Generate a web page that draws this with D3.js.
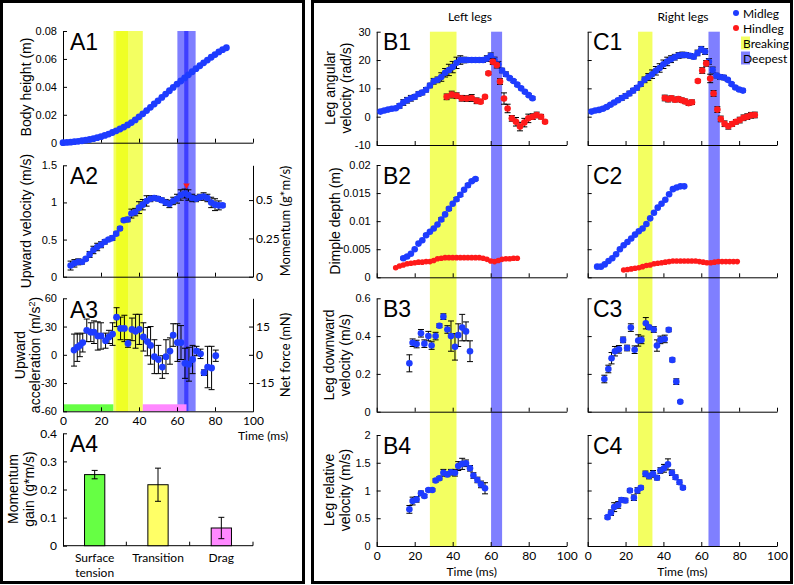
<!DOCTYPE html>
<html><head><meta charset="utf-8">
<script src="https://cdn.jsdelivr.net/npm/d3@7"></script>
<style>body{margin:0;background:#fff}svg{display:block}</style>
</head><body><svg id="c" width="794" height="585"></svg>
<script>
// ---------------- DATA ----------------
const bandLeftBreaking = [28, 42];
const bandLeftDeepest = [60.2, 66];
const bandRightBreaking = [26.6, 34.2];
const bandRightDeepest = [63.8, 69.8];
const phaseStarts = [0, 42];
const phaseEnds = [26.5, 65];

const a1Time = [0,2,4,6,8,10,12,14,16,18,20,22,24,26,28,30,32,34,36,38,40,42,44,46,48,50,52,54,56,58,60,62,64,66,68,70,72,74,76,78,80,82,84,86];
const a1Height = [0,0.0002,0.0004,0.0007,0.0010,0.0014,0.0018,0.0023,0.0029,0.0036,0.0043,0.0052,0.0062,0.0073,0.0085,0.0098,0.0112,0.0127,0.0144,0.0163,0.0185,0.0207,0.0230,0.0253,0.0277,0.0300,0.0324,0.0348,0.0372,0.0396,0.0420,0.0442,0.0464,0.0486,0.0508,0.0530,0.0551,0.0572,0.0592,0.0612,0.0631,0.0650,0.0666,0.0680];

const a2Time = [4,6,8,10,12,14,16,18,20,22,24,26,28,30,32,34,36,38,40,42,44,46,48,50,52,54,56,58,60,62,64,66,68,70,72,74,76,78,80,82,84];
const a2Vel = [.15,.18,.20,.20,.24,.30,.36,.40,.43,.47,.50,.52,.58,.65,.76,.77,.85,.87,.93,.97,1.02,1.05,1.06,1.05,1.03,1.00,.98,1.02,1.05,1.10,1.12,1.10,1.06,1.05,1.07,1.08,1.06,1.00,.97,.96,.96];
const a2Err = [.06,.05,.04,.03,.02,.04,.05,.05,.04,.03,.02,.03,.02,.02,.02,.03,.06,.05,.08,.07,.07,.04,.03,.03,.03,.04,.05,.05,.06,.07,.06,.07,.05,.04,.04,.05,.05,.07,.08,.06,.02];
const a2PeakTime = [65];
const a2PeakVel = [1.23];

const a3Time = [5.8,7.5,8.9,10.4,12.5,14.6,16.3,18.3,20,22.4,24.2,26.1,28.2,30.3,32.3,34.2,36.3,38.2,40.2,42.3,44.4,46.1,48.1,50.2,52.3,54.2,56.3,58,60.2,62.1,64.2,66.3,68.2,70.3,72.4,74.2,76.1,78.2,80.4];
const a3Acc = [5,8,10,13,26,24,24,20,20,15,19,22,40,28,28,12,27,25,27,19,14,10,-2,-5,-13,-2,4,21,13,13,-9,-10,-5,4,1,-19,-13,-14,-1];
const a3Err = [17,15,12,10,12,10,12,15,14,8,7,12,10,12,14,4,12,18,16,15,15,20,18,15,12,18,14,12,20,18,16,18,15,5,5,3,22,23,6];

const a4Categories = ["Surface tension", "Transition", "Drag"];
const a4CategoryLines = [["Surface","tension"],["Transition"],["Drag"]];
const a4Gain = [0.253, 0.217, 0.063];
const a4Err = [0.015, 0.059, 0.038];
const a4Colors = ["#66ff44", "#ffff66", "#ff88ff"];

const b1MidTime = [2,4,6,8,10,12,14,16,18,20,22,24,26,28,30,32,34,36,38,40,42,44,46,48,50,52,54,56,58,60,62,64,66,68,70,72,74,76,78,80,82];
const b1MidVal = [1.8,2.2,2.5,2.8,3.0,3.8,5.0,5.8,6.5,7.0,8.0,8.5,9.5,11.0,12.5,13.0,14.0,15.5,16.5,17.5,19.0,20.0,20.0,20.0,20.0,20.0,20.0,20.0,20.5,21.5,20.0,18.5,16.3,15.0,13.6,12.6,11.3,10.0,8.8,7.6,6.5];
const b1MidErr = [0.5,0.5,0.5,0.5,0.5,0.8,1,1,1,0.8,0.8,0.8,0.8,0.8,1,1,1.5,1.5,2,2,2,1.5,1,0.8,0.8,0.8,0.8,0.8,1,1,1,1,0.8,0.8,0.5,0.5,0.5,0.5,0.5,0.5,0.5];
const b1HindTime = [36.8,39.5,42.1,44.7,47.4,50,52.6,54.7,57,58.8,61.1,63.2,64.9,67,68.9,71.1,73.3,75.4,77.7,79.8,82.1,84.2,86.5,88.6];
const b1HindVal = [7.0,7.8,7.4,6.5,6.4,6.6,5.6,5.3,7.0,15.3,19.4,18.2,12.4,6.4,2.9,-0.6,-1.8,-3.5,-2.1,-0.6,0,0.6,0,-1.8];
const b1HindErr = [1,1.2,1,1,1,1.2,1,0.5,0.5,0.5,1,1,1,2,1.5,1,1.5,1.5,1.5,1.5,1,1,0.8,0.5];

const c1MidTime = [2,4,6,8,10,12,14,16,18,20,22,24,26,28,30,32,34,36,38,40,42,44,46,48,50,52,54,56,58,60,62,64,66,68,70,72,74,76,78,80,82];
const c1MidVal = [1.8,2.2,2.4,2.8,3.4,4.2,5.0,5.8,6.6,7.3,8.2,9.2,10.2,11.5,13.0,14.0,15.0,16.2,17.2,18.5,19.5,20.3,21.0,21.6,21.8,21.8,21.5,21.2,22.5,23.8,23.0,19.5,16.5,14.5,14.0,13.8,13.0,11.5,10.3,9.6,9.2];
const c1MidErr = [0.5,0.5,0.5,0.5,0.5,0.5,0.5,0.5,0.8,0.8,0.8,0.8,0.8,0.8,1,1.2,1.5,1.5,1.5,1.5,1.5,1.2,1,1,1,0.8,0.8,0.8,1,1,1,1,1,0.8,0.8,0.8,0.5,0.5,0.5,0.5,0.5];
const c1HindTime = [40.7,42.5,44.3,46.1,47.9,49.7,51.5,53.3,55.1,58.2,60.5,62.6,64.7,66.5,68.5,70.3,72.3,74.3,76.3,78.3,80.3,82.3,84.3,86.3,88.3];
const c1HindVal = [6.6,6.2,6.5,6.0,6.2,5.8,5.4,4.8,5.1,12.6,16.3,18.8,13.5,8.2,2.5,-0.8,-2.5,-3.4,-2.6,-1.8,-1.2,-0.4,0,0.5,0.6];
const c1HindErr = [1,1,0.8,0.8,0.8,0.8,0.8,0.8,0.8,0.5,1,1,1.5,1,1,1,1,1,0.8,0.8,1,1,1,1,1];

const b2MidTime = [14,16,18,20,22,24,26,28,30,32,34,36,38,40,42,44,46,48,50,52];
const b2MidVal = [0.0034,0.0037,0.0042,0.0050,0.0060,0.0066,0.0075,0.0081,0.0087,0.0094,0.0103,0.0112,0.0122,0.0131,0.0139,0.0147,0.0156,0.0164,0.0171,0.0175];
const b2MidErr = [0.0002,0.0002,0,0,0,0,0.0002,0,0,0,0.0003,0,0.0003,0,0.0003,0.0003,0,0.0003,0.0002,0.0002];
const b2HindTime = [10,12,14,16,18,20,22,24,26,28,30,32,34,36,38,40,42,44,46,48,50,52,54,56,58,60,62,64,66,68,70,72,74];
const b2HindVal = [0.0017,0.0020,0.0022,0.0024,0.0025,0.0026,0.0027,0.0027,0.0028,0.0028,0.0030,0.0033,0.0034,0.0035,0.0035,0.0035,0.0035,0.0035,0.0035,0.0035,0.0035,0.0035,0.0035,0.0034,0.0032,0.0029,0.0028,0.0030,0.0032,0.0033,0.0033,0.0034,0.0034];

const c2MidTime = [5,7,9,11,13,15,17,19,21,23,25,27,29,31,33,35,37,39,41,43,45,47,49,51];
const c2MidVal = [0.0019,0.0019,0.0023,0.0029,0.0034,0.0041,0.0050,0.0057,0.0063,0.0069,0.0076,0.0082,0.0087,0.0095,0.0105,0.0115,0.0124,0.0131,0.0138,0.0148,0.0157,0.0160,0.0162,0.0162];
const c2HindTime = [19,21,23,25,27,29,31,33,35,37,39,41,43,45,47,49,51,53,55,57,59,61,63,65,67,69,71,73,75,77,79];
const c2HindVal = [0.0013,0.0014,0.0015,0.0016,0.0017,0.0019,0.0021,0.0022,0.0024,0.0025,0.0026,0.0027,0.0028,0.0029,0.0029,0.0029,0.0029,0.0029,0.0029,0.0029,0.0028,0.0027,0.0026,0.0026,0.0027,0.0028,0.0028,0.0028,0.0028,0.0028,0.0028];

const b3Time = [17.2,18.9,21,23.3,25.1,27.2,28.9,31,33,35.1,37.2,39.1,41.2,42.9,45,47,49.1];
const b3Val = [0.256,0.365,0.358,0.415,0.36,0.40,0.35,0.40,0.455,0.503,0.435,0.40,0.343,0.405,0.445,0.425,0.32];
const b3Err = [0.045,0.02,0.02,0.02,0.02,0.025,0.02,0.02,0.01,0.015,0.02,0.08,0.07,0.06,0.07,0.05,0.055];

const c3Time = [8.8,10.9,12.6,14.4,16.5,18.7,20.8,22.8,24.8,26.7,28.4,30.7,32.4,34.9,36.6,38.4,40.7,42.8,44.7,46.8,48.9];
const c3Val = [0.173,0.226,0.283,0.32,0.33,0.38,0.337,0.445,0.328,0.377,0.38,0.468,0.447,0.435,0.35,0.38,0.385,0.433,0.274,0.159,0.053];
const c3Err = [0.02,0.02,0.03,0.025,0.02,0.015,0.015,0.02,0.02,0.03,0.02,0.03,0.01,0.015,0.03,0.02,0.02,0.01,0.01,0.015,0.005];

const b4Time = [17.2,18.9,21,23.3,25.1,27.2,29.3,31,33,35.1,37.2,39.1,41.2,42.9,45,47,49.1,50.9,53,54.9,57];
const b4Val = [0.66,0.81,0.84,0.95,0.90,1.01,1.01,1.18,1.22,1.32,1.29,1.33,1.32,1.44,1.48,1.49,1.40,1.27,1.19,1.11,1.04];
const b4Err = [0.07,0.07,0.05,0.04,0.03,0.02,0.02,0.03,0.03,0.06,0.04,0.05,0.06,0.08,0.1,0.06,0.05,0.05,0.05,0.06,0.1];

const c4Time = [10.5,12.3,14,16.1,17.8,19.9,22.3,24.4,26.3,28.1,30.5,32.4,34.5,36.6,38.4,40.3,42.4,44.5,46.4,48.5,50.3];
const c4Val = [0.52,0.60,0.70,0.74,0.83,0.82,1.0,0.87,1.0,1.05,1.30,1.26,1.30,1.23,1.36,1.40,1.47,1.32,1.24,1.15,1.05];
const c4Err = [0.03,0.05,0.08,0.06,0.04,0.04,0.03,0.05,0.05,0.03,0.05,0.05,0.06,0.04,0.05,0.07,0.1,0.05,0.04,0.04,0.03];

const timeTicks = [0,20,40,60,80,100];
const timeTickLabels = ["0","20","40","60","80","100"];
const a1Ticks = [0,0.02,0.04,0.06,0.08], a1Labels = ["0","0.02","0.04","0.06","0.08"];
const a2Ticks = [0,0.5,1,1.5], a2Labels = ["0","0.5","1","1.5"];
const a2rTicks = [0,0.25,0.5], a2rLabels = ["0","0.25","0.5"];
const a3Ticks = [-60,-30,0,30,60], a3Labels = ["-60","-30","0","30","60"];
const a3rTicks = [-15,0,15], a3rLabels = ["-15","0","15"];
const a4Ticks = [0,0.1,0.2,0.3,0.4], a4Labels = ["0","0.1","0.2","0.3","0.4"];
const b1Ticks = [-10,0,10,20,30], b1Labels = ["-10","0","10","20","30"];
const b2Ticks = [0,0.005,0.01,0.015,0.02], b2Labels = ["0","0.005","0.01","0.015","0.02"];
const b3Ticks = [0,0.2,0.4,0.6], b3Labels = ["0","0.2","0.4","0.6"];
const b4Ticks = [0,0.5,1,1.5,2], b4Labels = ["0","0.5","1","1.5","2"];

// ---------------- STYLE ----------------
const ARIAL = "'Liberation Sans', Arial, sans-serif";
const CAL = "Lato, 'Open Sans', sans-serif";
const BLUE = "#1e3cff", RED = "#ff1a1a";
const YEL = "#ebff00", BLU = "#0000ff";

const svg = d3.select("#c");

// Boxes
svg.append("rect").attr("x",1.5).attr("y",1.5).attr("width",302).attr("height",581).attr("fill","none").attr("stroke","#000").attr("stroke-width",3);
svg.append("rect").attr("x",312.5).attr("y",1.5).attr("width",479).attr("height",581).attr("fill","none").attr("stroke","#000").attr("stroke-width",3);

// Scales
const xA = d3.scaleLinear().domain([0,100]).range([63,253]);
const xB = d3.scaleLinear().domain([0,100]).range([376.7,566.7]);
const xC = d3.scaleLinear().domain([0,100]).range([587.7,777]);
const yA1 = d3.scaleLinear().domain([0,0.08]).range([142.7,31]);
const yA2 = d3.scaleLinear().domain([0,1.5]).range([276.7,165.3]);
const yA2r = d3.scaleLinear().domain([0,0.727]).range([276.7,165.3]);
const yA3 = d3.scaleLinear().domain([-60,60]).range([411.3,298.3]);
const yA3r = d3.scaleLinear().domain([-30,30]).range([411.3,298.3]);
const yA4 = d3.scaleLinear().domain([0,0.4]).range([545.7,433.3]);
const xA4 = d3.scaleBand().domain(a4Categories).range([63,253]);
const yB1 = d3.scaleLinear().domain([-10,30]).range([145,31.7]);
const yB2 = d3.scaleLinear().domain([0,0.02]).range([277.3,165]);
const yB3 = d3.scaleLinear().domain([0,0.6]).range([411.7,298.3]);
const yB4 = d3.scaleLinear().domain([0,2]).range([546,435]);

// Bands
function band(x, range, y0, y1, color, op) {
  svg.append("rect").attr("x", x(range[0])).attr("width", x(range[1]) - x(range[0]))
    .attr("y", y0).attr("height", y1 - y0).attr("fill", color).attr("fill-opacity", op);
}
band(xA, bandLeftBreaking, 31, 411.3, YEL, 0.62);
band(xA, bandRightBreaking, 31, 411.3, YEL, 0.62);
band(xA, bandLeftDeepest, 31, 411.3, BLU, 0.5);
band(xA, bandRightDeepest, 31, 411.3, BLU, 0.5);
band(xB, bandLeftBreaking, 31.7, 546, YEL, 0.62);
band(xB, bandLeftDeepest, 31.7, 546, BLU, 0.5);
band(xC, bandRightBreaking, 31.7, 546, YEL, 0.62);
band(xC, bandRightDeepest, 31.7, 546, BLU, 0.5);

// Phase bars in A3
const phaseColors = ["#66ff44", "#ff88ff"];
phaseStarts.forEach((s,i) => {
  svg.append("rect").attr("x", xA(s)).attr("width", xA(phaseEnds[i]) - xA(s))
    .attr("y", yA3(-60) - 7).attr("height", 7).attr("fill", phaseColors[i]);
});

function styleAxis(sel, font, size) {
  sel.select(".domain").attr("stroke","#000").attr("stroke-width",1);
  sel.selectAll(".tick line").attr("stroke","#000").attr("stroke-width",1);
  sel.selectAll("text").attr("font-family",font).attr("font-size",size).attr("fill","#000");
}
function leftAxis(x, y, ticks, labels, show, font, size) {
  const ax = d3.axisLeft(y).tickValues(ticks).tickSizeInner(-4).tickSizeOuter(0).tickPadding(6)
    .tickFormat((d,i) => show ? labels[i] : "");
  const g = svg.append("g").attr("transform", `translate(${x.range()[0]},0)`).call(ax);
  styleAxis(g, font || ARIAL, size || 11);
}
function rightAxis(xpos, y, ticks, labels) {
  const ax = d3.axisRight(y).tickValues(ticks).tickSizeInner(-4).tickSizeOuter(0).tickPadding(3)
    .tickFormat((d,i) => labels[i]);
  const g = svg.append("g").attr("transform", `translate(${xpos},0)`).call(ax);
  styleAxis(g, CAL, 12);
}
function bottomAxis(x, ypos, show, pad) {
  const ax = d3.axisBottom(x).tickValues(timeTicks).tickSizeInner(-4).tickSizeOuter(0).tickPadding(pad || 5)
    .tickFormat((d,i) => show ? timeTickLabels[i] : "");
  const g = svg.append("g").attr("transform", `translate(0,${ypos})`).call(ax);
  styleAxis(g, CAL, 12);
}
function vlabel(lines, xs, cy, size, font) {
  lines.forEach((t,i) => {
    svg.append("text").attr("transform", `translate(${xs[i]},${cy}) rotate(-90)`)
      .attr("text-anchor","middle").attr("font-family", font || ARIAL).attr("font-size", size || 14).text(t);
  });
}
function plabel(t, x, y) {
  svg.append("text").attr("x",x).attr("y",y).attr("font-family",ARIAL).attr("font-size",23).text(t);
}
function series(x, y, ts, vs, es, color, r) {
  const g = svg.append("g");
  if (es) {
    ts.forEach((t,i) => {
      const e = es[i]; if (!e) return;
      const cx = x(t), ya = y(vs[i]-e), yb = y(vs[i]+e);
      g.append("line").attr("x1",cx).attr("x2",cx).attr("y1",ya).attr("y2",yb).attr("stroke","#000").attr("stroke-width",1);
      g.append("line").attr("x1",cx-3).attr("x2",cx+3).attr("y1",ya).attr("y2",ya).attr("stroke","#000").attr("stroke-width",1);
      g.append("line").attr("x1",cx-3).attr("x2",cx+3).attr("y1",yb).attr("y2",yb).attr("stroke","#000").attr("stroke-width",1);
    });
  }
  g.selectAll("circle").data(ts).join("circle")
    .attr("cx", (t) => x(t)).attr("cy", (t,i) => y(vs[i])).attr("r", r || 3.3).attr("fill", color);
}

// ---------- A panels ----------
leftAxis(xA, yA1, a1Ticks, a1Labels, true);
bottomAxis(xA, yA1.range()[0], false);
series(xA, yA1, a1Time, a1Height, null, BLUE, 3.4);
plabel("A1", 70, 50);
vlabel(["Body height (m)"], [31], 87);

leftAxis(xA, yA2, a2Ticks, a2Labels, true);
rightAxis(xA(100), yA2r, a2rTicks, a2rLabels);
bottomAxis(xA, yA2.range()[0], false);
series(xA, yA2, a2Time, a2Vel, a2Err, BLUE, 3.3);
svg.append("path").attr("d", d3.symbol(d3.symbolTriangle, 18)())
  .attr("transform", `translate(${xA(a2PeakTime[0])},${yA2(a2PeakVel[0])}) rotate(180)`).attr("fill", RED);
plabel("A2", 70, 184);
vlabel(["Upward velocity (m/s)"], [31], 221);
vlabel(["Momentum (g*m/s)"], [290], 221, 13, CAL);

leftAxis(xA, yA3, a3Ticks, a3Labels, true);
rightAxis(xA(100), yA3r, a3rTicks, a3rLabels);
bottomAxis(xA, yA3.range()[0], true, 5);
series(xA, yA3, a3Time, a3Acc, a3Err, BLUE, 3.4);
plabel("A3", 70, 318);
{
  svg.append("text").attr("transform", `translate(25,355) rotate(-90)`).attr("text-anchor","middle")
    .attr("font-family",ARIAL).attr("font-size",14).text("Upward");
  const t2 = svg.append("text").attr("transform", `translate(40,355) rotate(-90)`).attr("text-anchor","middle")
    .attr("font-family",ARIAL).attr("font-size",14);
  t2.append("tspan").text("acceleration (m/s");
  t2.append("tspan").attr("baseline-shift","super").attr("font-size",9).text("2");
  t2.append("tspan").text(")");
}
vlabel(["Net force (mN)"], [290], 355, 13, CAL);
svg.append("text").attr("x",238).attr("y",440).attr("font-family",CAL).attr("font-size",12).text("Time (ms)");

// A4 bar chart
leftAxis(xA4.copy().range([63,253]), yA4, a4Ticks, a4Labels, true, CAL, 12);
{
  const g = svg.append("g");
  g.append("line").attr("x1",63).attr("x2",253).attr("y1",yA4(0)).attr("y2",yA4(0)).attr("stroke","#000");
  a4Categories.forEach((c,i) => {
    const edge = xA4(c) + xA4.bandwidth();
    g.append("line").attr("x1",edge).attr("x2",edge).attr("y1",yA4(0)).attr("y2",yA4(0)-4).attr("stroke","#000");
    const bw = xA4.bandwidth()*0.32, cx = xA4(c) + xA4.bandwidth()/2;
    g.append("rect").attr("x",cx-bw/2).attr("width",bw).attr("y",yA4(a4Gain[i])).attr("height",yA4(0)-yA4(a4Gain[i]))
      .attr("fill",a4Colors[i]).attr("stroke","#000").attr("stroke-width",1);
    const ya = yA4(a4Gain[i]-a4Err[i]), yb = yA4(a4Gain[i]+a4Err[i]);
    g.append("line").attr("x1",cx).attr("x2",cx).attr("y1",ya).attr("y2",yb).attr("stroke","#000");
    [ya,yb].forEach(yy => g.append("line").attr("x1",cx-3).attr("x2",cx+3).attr("y1",yy).attr("y2",yy).attr("stroke","#000"));
    a4CategoryLines[i].forEach((ln,j) => {
      g.append("text").attr("x",cx).attr("y",562+j*15).attr("text-anchor","middle")
        .attr("font-family",CAL).attr("font-size",12).text(ln);
    });
  });
}
plabel("A4", 70, 452);
vlabel(["Momentum","gain (g*m/s)"], [18,34], 489);

// ---------- B / C panels ----------
const rows = [
  {y:yB1, ticks:b1Ticks, labels:b1Labels},
  {y:yB2, ticks:b2Ticks, labels:b2Labels},
  {y:yB3, ticks:b3Ticks, labels:b3Labels},
  {y:yB4, ticks:b4Ticks, labels:b4Labels}
];
rows.forEach((r,i) => {
  leftAxis(xB, r.y, r.ticks, r.labels, true);
  leftAxis(xC, r.y, r.ticks, r.labels, false);
  bottomAxis(xB, r.y.range()[0], i === 3, 5);
  bottomAxis(xC, r.y.range()[0], i === 3, 5);
  plabel("B" + (i+1), 383, r.y.range()[1] + 18.5);
  plabel("C" + (i+1), 593, r.y.range()[1] + 18.5);
});

series(xB, yB1, b1MidTime, b1MidVal, b1MidErr, BLUE, 3.3);
series(xB, yB1, b1HindTime, b1HindVal, b1HindErr, RED, 3.3);
series(xC, yB1, c1MidTime, c1MidVal, c1MidErr, BLUE, 3.3);
series(xC, yB1, c1HindTime, c1HindVal, c1HindErr, RED, 3.3);

series(xB, yB2, b2HindTime, b2HindVal, null, RED, 2.8);
series(xB, yB2, b2MidTime, b2MidVal, b2MidErr, BLUE, 3.3);
series(xC, yB2, c2HindTime, c2HindVal, null, RED, 2.8);
series(xC, yB2, c2MidTime, c2MidVal, null, BLUE, 3.3);

series(xB, yB3, b3Time, b3Val, b3Err, BLUE, 3.3);
series(xC, yB3, c3Time, c3Val, c3Err, BLUE, 3.3);
series(xB, yB4, b4Time, b4Val, b4Err, BLUE, 3.3);
series(xC, yB4, c4Time, c4Val, c4Err, BLUE, 3.3);

vlabel(["Leg angular","velocity (rad/s)"], [335,351], 88);
vlabel(["Dimple depth (m)"], [340], 221);
vlabel(["Leg downward","velocity (m/s)"], [334,350], 355);
vlabel(["Leg relative","velocity (m/s)"], [334,350], 490);

[xB, xC].forEach(x => {
  svg.append("text").attr("x", (x.range()[0]+x.range()[1])/2).attr("y", 576).attr("text-anchor","middle")
    .attr("font-family",CAL).attr("font-size",12).text("Time (ms)");
});

// Titles & legend
svg.append("text").attr("x",470).attr("y",21).attr("text-anchor","middle").attr("font-family",CAL).attr("font-size",12).text("Left legs");
svg.append("text").attr("x",683).attr("y",21).attr("text-anchor","middle").attr("font-family",CAL).attr("font-size",12).text("Right legs");
const legendNames = ["Midleg","Hindleg","Breaking","Deepest"];
const legendKinds = ["dot","dot","rect","rect"];
const legendColors = [BLUE, RED, YEL, BLU];
legendNames.forEach((n,i) => {
  const yy = 13 + i*15;
  if (legendKinds[i] === "dot") {
    svg.append("circle").attr("cx",736).attr("cy",yy).attr("r",3).attr("fill",legendColors[i]);
  } else {
    svg.append("rect").attr("x",741).attr("y",yy-6.5).attr("width",9).attr("height",13)
      .attr("fill",legendColors[i]).attr("fill-opacity", i===2 ? 0.62 : 0.5);
  }
  svg.append("text").attr("x",743).attr("y",yy+4.5).attr("font-family",CAL).attr("font-size",12).text(n);
});
</script></body></html>
